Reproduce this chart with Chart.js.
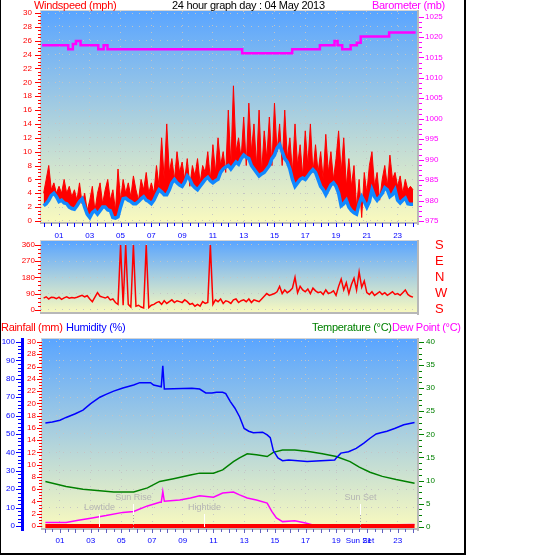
<!DOCTYPE html>
<html>
<head>
<meta charset="utf-8">
<script src="https://cdn.jsdelivr.net/npm/chart.js@4.4.1/dist/chart.umd.min.js"></script>
<style>
  body { margin: 0; background: #fff; width: 543px; height: 555px; overflow: hidden; position: relative;
         font-family: "Liberation Sans", Arial, sans-serif; }
  canvas { position: absolute; left: 0; }
  #frame { position: absolute; left: 0; top: -2px; width: 463px; height: 553px; border: 2px solid #000; border-left-width: 1px; }
  .t { position: absolute; font-size: 11px; line-height: 12px; letter-spacing: -0.3px; white-space: nowrap; }
</style>
</head>
<body>
<canvas id="windChart" width="465" height="240" style="top:0;width:465px;height:240px"></canvas>
<canvas id="dirChart" width="465" height="81" style="top:236px;width:465px;height:81px"></canvas>
<canvas id="climateChart" width="465" height="223" style="top:330px;width:465px;height:223px"></canvas>
<div id="frame"></div>
<span class="t" style="left:34px;top:-1px;color:#ff0000">Windspeed (mph)</span>
<span class="t" style="left:172px;top:-1px;color:#000">24 hour graph day : 04 May 2013</span>
<span class="t" style="left:372px;top:-1px;color:#ff00ff">Barometer (mb)</span>
<span class="t" style="left:1px;top:321px;color:#ff0000">Rainfall (mm)</span>
<span class="t" style="left:66px;top:321px;color:#0000ff">Humidity (%)</span>
<span class="t" style="left:312px;top:321px;color:#008000">Temperature (°C)</span>
<span class="t" style="left:392px;top:321px;color:#ff00ff">Dew Point (°C)</span>
<script>
// ---- data ----
var hourTicks = [1, 3, 5, 7, 9, 11, 13, 15, 17, 19, 21, 23];
var hourLabels = ['01', '03', '05', '07', '09', '11', '13', '15', '17', '19', '21', '23'];

var windTicks = [0, 2, 4, 6, 8, 10, 12, 14, 16, 18, 20, 22, 24, 26, 28, 30];
var baroTicks = [975, 980, 985, 990, 995, 1000, 1005, 1010, 1015, 1020, 1025];
var dirTicks = [0, 90, 180, 270, 360];
var compassLabels = ['S', 'W', 'N', 'E', 'S'];
var humTicks = [0, 10, 20, 30, 40, 50, 60, 70, 80, 90, 100];
var rainTicks = [0, 2, 4, 6, 8, 10, 12, 14, 16, 18, 20, 22, 24, 26, 28, 30];
var tempTicks = [0, 5, 10, 15, 20, 25, 30, 35, 40];

// wind samples every 10 minutes from midnight
var sampleMinutes = 10;
var windAvg = [
  2.2, 2.5, 3.0, 3.7, 4.0, 3.5,
  2.8, 3.0, 2.6, 2.5, 2.0, 1.8,
  1.7, 2.2, 2.8, 3.2, 2.0, 1.0,
  0.5, 1.2, 1.5, 1.0, 1.5, 2.0,
  2.0, 1.6, 1.5, 0.5, 0.4, 0.6,
  2.0, 3.2, 3.3, 3.0, 2.8, 2.5,
  2.5, 2.8, 3.2, 3.5, 3.0, 2.8,
  2.5, 3.0, 3.8, 4.5, 4.2, 3.8,
  3.8, 4.5, 5.5, 6.0, 5.5, 5.2,
  5.0, 5.6, 6.5, 6.0, 5.2, 4.8,
  4.5, 5.0, 5.5, 6.0, 6.3, 5.8,
  5.5, 5.8, 6.0, 7.0, 7.5, 7.8,
  8.0, 7.5, 8.0, 8.5, 8.2, 9.0,
  9.5, 9.2, 9.0, 8.0, 7.5, 7.0,
  6.5, 6.8, 7.0, 7.5, 8.0, 9.0,
  9.5, 10.5, 11.0, 10.0, 9.0, 8.5,
  7.5, 6.0, 5.0, 5.5, 6.0, 6.2,
  6.0, 6.5, 7.0, 7.4, 7.0, 6.0,
  5.0, 4.5, 3.8, 4.5, 5.2, 5.5,
  5.0, 4.0, 2.2, 2.5, 3.0, 2.0,
  1.5, 1.2, 1.0, 2.5, 3.5, 2.8,
  2.0, 2.8, 4.5, 3.5, 3.0, 3.5,
  4.0, 4.8, 4.5, 3.5, 3.8, 4.5,
  3.0, 2.6, 3.0, 3.3, 2.5, 2.4,
  2.4
];
var windGust = [
  4, 6, 8, 4.5, 5.5, 4,
  5, 4, 6, 4, 5, 3.5,
  4.5, 3, 5.5, 2.5, 4, 1.5,
  3, 5, 1.5, 4, 5.5, 2.5,
  4.5, 6, 3, 4.5, 1.5, 7.5,
  3, 6, 4, 5.5, 3.5, 6.5,
  4.5, 3, 6, 4.5, 7, 4,
  5.5, 4, 8, 5, 12, 6,
  14, 7, 9, 6, 10, 7,
  8.5, 6, 9, 5, 8, 6.5,
  9, 5.5, 8, 7, 10, 6,
  11, 7, 12, 8, 10, 7,
  16, 8, 19.5, 10, 12, 9,
  15, 8, 17, 10, 14, 8,
  16, 7, 13, 9, 15, 8,
  17, 10, 14, 8, 16, 9,
  12, 7, 14, 8, 11, 6.5,
  13, 8, 14, 7, 11, 7,
  10, 6, 12.5, 7, 10, 6,
  9, 13, 7, 12, 5, 9,
  5, 8, 2, 6, 0.5, 7,
  4, 8, 10, 5, 7, 3,
  6, 8, 5, 9.5, 6, 7,
  5, 6.5, 4, 6, 4.5, 5,
  4.5
];
var windDir = [
  65, 72, 60, 70, 68, 62,
  70, 58, 66, 72, 64, 68,
  66, 70, 75, 80, 72, 78,
  60, 45, 70, 95, 75, 70,
  65, 72, 55, 60, 40, 30,
  360, 25, 360, 30, 15, 360,
  20, 25, 15, 10, 360, 12,
  25, 30, 40, 45, 30, 50,
  35, 45, 55, 40, 50, 45,
  40, 55, 45, 30, 35, 20,
  30, 20, 45, 35, 40, 360,
  30, 55, 45, 60, 35, 50,
  45, 35, 55, 60, 40, 50,
  55, 45, 60, 40, 55, 50,
  45, 60, 75, 90, 80, 85,
  90, 100, 130, 90, 110, 95,
  105, 120, 180, 95, 130, 110,
  100, 115, 90, 120, 105, 95,
  100, 85, 110, 90, 95, 105,
  80, 130, 170, 110, 150, 90,
  140, 175, 110, 210, 125, 160,
  95, 85, 100, 80, 90, 100,
  85, 95, 80, 90, 100, 85,
  90, 80, 95, 110, 85, 75,
  70
];

// barometer changes (hour, mb)
var baroHours = [-0.1, 1.6, 1.9, 2.1, 2.4, 3.55, 3.9, 4.15, 12.9, 16.15, 17.95, 18.9, 19.1, 19.4, 19.95, 20.35, 20.6, 22.45, 24.17];
var baroValues = [1018, 1017, 1018.3, 1019, 1018, 1017, 1018, 1017, 1016, 1017, 1018, 1019, 1018, 1017, 1018, 1018.6, 1020.1, 1021.1, 1021.1];

var humHours = [0.05, 0.5, 1.0, 1.4, 2.0, 2.5, 3.0, 3.6, 4.0, 4.5, 5.1, 5.8, 6.2, 6.9, 7.1, 7.6, 7.7, 7.8, 9.6, 10.1, 10.5, 10.9, 11.2, 11.6, 11.8, 12.1, 12.4, 12.7, 13.0, 13.3, 13.6, 14.2, 14.5, 14.7, 14.9, 15.2, 15.5, 15.9, 17.1, 18.9, 19.0, 19.3, 19.8, 20.3, 20.8, 21.2, 21.6, 21.9, 22.3, 22.8, 23.4, 24.1];
var humValues = [56, 56.5, 57.5, 59, 61, 63, 66.5, 70, 71.5, 73.3, 75, 76.6, 77.9, 77.9, 76.6, 75.7, 87, 74.4, 74.8, 74.4, 72.3, 72.3, 72.7, 72.7, 72, 67.6, 64, 59.4, 53, 51.5, 50.7, 51, 49.5, 48, 41, 37, 35.5, 35.9, 35, 35.9, 37, 39.6, 40.4, 42.2, 45, 47.7, 50, 50.7, 51.5, 53, 55, 56.2];

var tempHours = [0.05, 1.4, 2.5, 3.6, 4.5, 5.8, 6.7, 7.5, 8.4, 9.5, 10.1, 11.0, 11.6, 12.3, 12.7, 13.2, 13.8, 14.5, 14.9, 15.5, 16.3, 17.2, 18.1, 19.0, 19.9, 20.5, 21.2, 22.0, 22.9, 24.1];
var tempValues = [9.8, 8.7, 8.1, 7.8, 7.5, 7.5, 8.4, 9.8, 10.4, 11.2, 11.6, 11.6, 12.3, 14.1, 14.9, 15.8, 15.6, 15.2, 16.1, 16.6, 16.6, 16.3, 15.8, 15.2, 14.1, 12.9, 11.8, 10.9, 10.2, 9.4];

var dewHours = [0.05, 1.4, 2.2, 3.1, 4.0, 5.1, 5.8, 6.7, 7.5, 7.6, 7.7, 7.8, 8.8, 9.5, 10.1, 11.0, 11.6, 12.3, 12.7, 13.2, 13.8, 14.5, 14.8, 15.1, 15.5, 16.3, 17.0, 17.9, 18.5, 19.2, 20.0, 21.0, 22.0, 23.0, 24.1];
var dewValues = [0.9, 0.9, 1.4, 1.9, 2.4, 3.1, 3.3, 4.5, 5.3, 5.3, 7.6, 5.5, 5.8, 6.2, 6.7, 6.4, 7.3, 7.5, 6.9, 6.2, 5.8, 5.1, 3.3, 1.9, 1.1, 1.3, 0.8, 0.0, -0.2, 0.3, 0.4, 0.3, 0.4, 0.4, 0.5];

var rainHours = [0.05, 24.1];
var rainValues = [0, 0];

var eventNames = ['Lowtide', 'Sun Rise', 'Hightide', 'Sun Set'];
var eventHours = [3.55, 5.75, 10.4, 20.55];

// ---- helpers ----
var HOUR_MIN = -0.17, HOUR_MAX = 24.39;
var GRID = 'rgba(196,196,196,0.95)';
Chart.defaults.font.family = '"Liberation Sans", Arial, sans-serif';
Chart.defaults.animation = false;

function pairs(xs, ys) {
  return ys.map(function (y, i) { return { x: xs[i], y: y }; });
}
function samples(ys) {
  return ys.map(function (y, i) { return { x: i * sampleMinutes / 60, y: y }; });
}
// fixed axis size, and no extra layout padding from the tick labels
function fixSize(s, w, h) {
  if (w !== null) s.width = w;
  if (h !== null) s.height = h;
  s.paddingTop = s.paddingBottom = s.paddingLeft = s.paddingRight = 0;
}

function hourAxis(o) {
  return {
    type: 'linear', min: HOUR_MIN, max: HOUR_MAX,
    afterBuildTicks: function (s) { s.ticks = o.values.map(function (v) { return { value: v }; }); },
    afterFit: function (s) { fixSize(s, null, o.height); },
    ticks: { display: o.labels !== null, autoSkip: false, maxRotation: 0, padding: o.padding, color: '#0000ff', font: { size: 8 },
      callback: function (v, i) { return o.labels ? o.labels[i] : ''; } },
    grid: { drawTicks: false, display: o.grid !== false,
      color: function (c) { return c.index < hourTicks.length ? GRID : 'rgba(0,0,0,0)'; } },
    border: { display: false, dash: [1, 6] }
  };
}

function valueAxis(o) {
  return {
    type: 'linear', position: o.position, min: o.min, max: o.max, weight: o.weight || 0,
    afterBuildTicks: function (s) { s.ticks = o.values.map(function (v) { return { value: v }; }); },
    afterFit: function (s) { fixSize(s, o.width, null); },
    ticks: { autoSkip: false, padding: o.padding, color: o.color, font: { size: o.size || 8 },
      callback: function (v, i) { return o.labels ? o.labels[i] : String(v); } },
    grid: { drawTicks: false, drawOnChartArea: !!o.grid, color: GRID },
    border: { display: false, dash: [1, 6] }
  };
}

// gradient background + grey frame of the plot area
var plotFrame = {
  id: 'plotFrame',
  beforeDraw: function (chart) {
    var ctx = chart.ctx, a = chart.chartArea;
    var g = ctx.createLinearGradient(0, a.top, 0, a.bottom);
    g.addColorStop(0, '#5aa5ff');
    g.addColorStop(1, '#fafabe');
    ctx.fillStyle = g;
    ctx.fillRect(a.left, a.top, a.right - a.left, a.bottom - a.top);
  },
  afterDatasetsDraw: function (chart) {
    var ctx = chart.ctx, a = chart.chartArea;
    ctx.save();
    ctx.fillStyle = '#d4d4d4';
    ctx.fillRect(a.left - 1, a.top - 1, a.right - a.left + 1, 1);
    ctx.fillRect(a.left - 1, a.top - 1, 1, a.bottom - a.top + 1);
    ctx.fillStyle = '#b8b8b8';
    ctx.fillRect(a.right - 2, a.top - 1, 2, a.bottom - a.top + 3);
    ctx.fillRect(a.left - 1, a.bottom - 1, a.right - a.left + 1, 2);
    ctx.restore();
  }
};

// small major / minor tick marks along the axes
var tickMarks = {
  id: 'tickMarks',
  afterDraw: function (chart, args, opts) {
    var ctx = chart.ctx;
    (opts.marks || []).forEach(function (m) {
      var s = chart.scales[m.id];
      ctx.save();
      ctx.strokeStyle = m.color;
      ctx.lineWidth = 1;
      ctx.beginPath();
      var n = Math.round((m.to - m.from) / m.step);
      for (var k = 0; k <= n; k++) {
        var v = m.from + k * m.step;
        var q = v / m.major;
        var len = Math.abs(q - Math.round(q)) < 1e-6 ? m.long : m.short;
        var p = Math.round(s.getPixelForValue(v)) + 0.5;
        if (s.isHorizontal()) { ctx.moveTo(p, s.top); ctx.lineTo(p, s.top + len); }
        else if (s.position === 'left') { ctx.moveTo(s.right - len, p); ctx.lineTo(s.right, p); }
        else { ctx.moveTo(s.left, p); ctx.lineTo(s.left + len, p); }
      }
      ctx.stroke();
      if (m.axisLine) {
        ctx.fillStyle = m.color;
        ctx.fillRect(s.right, s.top - 1, 3, s.bottom - s.top + 3);
      }
      ctx.restore();
    });
  }
};

// tide / sun markers in the lower panel
var dayEvents = {
  id: 'dayEvents',
  afterDatasetsDraw: function (chart) {
    var ctx = chart.ctx, a = chart.chartArea, x = chart.scales.x;
    ctx.save();
    ctx.font = '9px "Liberation Sans", Arial, sans-serif';
    ctx.textAlign = 'center';
    ctx.textBaseline = 'middle';
    eventNames.forEach(function (name, i) {
      var px = Math.round(x.getPixelForValue(eventHours[i])) + 0.5;
      var sun = name.indexOf('Sun') === 0;
      var labelY = sun ? a.bottom - 31 : a.bottom - 21;
      ctx.fillStyle = '#b4b4b4';
      ctx.fillText(name, px, labelY);
      ctx.strokeStyle = '#ffffff';
      ctx.lineWidth = 1;
      ctx.beginPath();
      if (sun) {
        ctx.moveTo(px, a.bottom - 25); ctx.lineTo(px, a.bottom - 14); ctx.stroke();
        ctx.strokeStyle = '#a8a8a8';
        ctx.setLineDash([1, 2]);
        ctx.beginPath(); ctx.moveTo(px, a.bottom - 14); ctx.lineTo(px, a.bottom); ctx.stroke();
        ctx.setLineDash([]);
      } else {
        ctx.moveTo(px, a.bottom - 15); ctx.lineTo(px, a.bottom - 2); ctx.stroke();
      }
    });
    ctx.restore();
  }
};

function lineSet(data, axis, color, width, order, extra) {
  var d = { data: data, yAxisID: axis, borderColor: color, backgroundColor: color, borderWidth: width,
    pointRadius: 0, tension: 0, fill: false, order: order };
  for (var k in extra) d[k] = extra[k];
  return d;
}

var common = {
  responsive: false,
  maintainAspectRatio: false,
  animation: false,
  plugins: { legend: { display: false }, tooltip: { enabled: false }, title: { display: false } }
};

// ---- top: wind speed + barometer ----
new Chart(document.getElementById('windChart'), {
  type: 'line',
  data: {
    datasets: [
      lineSet(pairs(baroHours, baroValues), 'yb', '#ff00ff', 2.5, 0, { stepped: 'before' }),
      lineSet(samples(windAvg), 'yw', '#1188ff', 3.5, 1),
      // gusts: filled down to the average line
      lineSet(samples(windGust), 'yw', '#ff0000', 1, 2, { fill: 1 })
    ]
  },
  options: Object.assign({}, common, {
    layout: { autoPadding: false, padding: { top: 11, left: 0, right: 0, bottom: 0 } },
    scales: {
      x: hourAxis({ values: hourTicks, labels: hourLabels, height: 17, padding: 8 }),
      yw: valueAxis({ position: 'left', min: -0.29, max: 30.29, values: windTicks, width: 41, padding: 9, color: '#ff0000', grid: true }),
      yb: valueAxis({ position: 'right', min: 974.5, max: 1026.35, values: baroTicks, width: 46, padding: 6, color: '#ff00ff' })
    },
    plugins: Object.assign({}, common.plugins, {
      tickMarks: { marks: [
        { id: 'x', from: 0, to: 24, step: 0.5, major: 1, long: 4, short: 3, color: '#0000ff' },
        { id: 'yw', from: 0, to: 30, step: 0.5, major: 2, long: 6, short: 3, color: '#ff0000' },
        { id: 'yb', from: 975, to: 1025, step: 1.25, major: 5, long: 5, short: 3, color: '#ff00ff' }
      ] }
    })
  }),
  plugins: [plotFrame, tickMarks]
});

// ---- middle: wind direction ----
new Chart(document.getElementById('dirChart'), {
  type: 'line',
  data: {
    datasets: [lineSet(samples(windDir), 'yd', '#ff0000', 1.5, 0)]
  },
  options: Object.assign({}, common, {
    layout: { autoPadding: false, padding: { top: 5, left: 0, right: 0, bottom: 4 } },
    scales: {
      x: hourAxis({ values: hourTicks, labels: null, height: 0, padding: 0, grid: false }),
      yd: valueAxis({ position: 'left', min: -18, max: 382, values: dirTicks, width: 41, padding: 6, color: '#ff0000', grid: true }),
      yc: valueAxis({ position: 'right', min: -18, max: 382, values: dirTicks, labels: compassLabels, width: 46, padding: 16, color: '#ff0000', size: 13 })
    },
    plugins: Object.assign({}, common.plugins, {
      tickMarks: { marks: [
        { id: 'yd', from: 0, to: 360, step: 22.5, major: 90, long: 6, short: 3, color: '#ff0000' }
      ] }
    })
  }),
  plugins: [plotFrame, tickMarks]
});

// ---- bottom: rain, humidity, temperature, dew point ----
var sunSetIndex = eventNames.indexOf('Sun Set');
new Chart(document.getElementById('climateChart'), {
  type: 'line',
  data: {
    datasets: [
      lineSet(pairs(rainHours, rainValues), 'yr', '#ff0000', 4, 0),
      lineSet(pairs(humHours, humValues), 'yh', '#0000ff', 1.5, 1),
      lineSet(pairs(tempHours, tempValues), 'yt', '#008000', 1.5, 2),
      lineSet(pairs(dewHours, dewValues), 'yt', '#ff00ff', 1.5, 3)
    ]
  },
  options: Object.assign({}, common, {
    layout: { autoPadding: false, padding: { top: 9, left: 0, right: 0, bottom: 0 } },
    scales: {
      x: hourAxis({ values: hourTicks.concat([eventHours[sunSetIndex]]), labels: hourLabels.concat([eventNames[sunSetIndex]]), height: 24, padding: 7 }),
      yh: valueAxis({ position: 'left', weight: 2, min: -1.63, max: 101.63, values: humTicks, width: 21, padding: 6, color: '#0000ff', grid: true }),
      yr: valueAxis({ position: 'left', weight: 1, min: -0.49, max: 30.49, values: rainTicks, width: 21, padding: 6, color: '#ff0000' }),
      yt: valueAxis({ position: 'right', min: -0.5, max: 40.65, values: tempTicks, width: 46, padding: 7, color: '#008000' })
    },
    plugins: Object.assign({}, common.plugins, {
      tickMarks: { marks: [
        { id: 'x', from: 0, to: 24, step: 0.5, major: 1, long: 4, short: 3, color: '#6060c0' },
        { id: 'yh', from: 0, to: 100, step: 2, major: 10, long: 5, short: 3, color: '#0000ff', axisLine: true },
        { id: 'yr', from: 0, to: 30, step: 0.5, major: 2, long: 5, short: 3, color: '#ff0000' },
        { id: 'yt', from: 0, to: 40, step: 1.25, major: 5, long: 5, short: 3, color: '#008000' }
      ] }
    })
  }),
  plugins: [plotFrame, dayEvents, tickMarks]
});
</script>
</body>
</html>
